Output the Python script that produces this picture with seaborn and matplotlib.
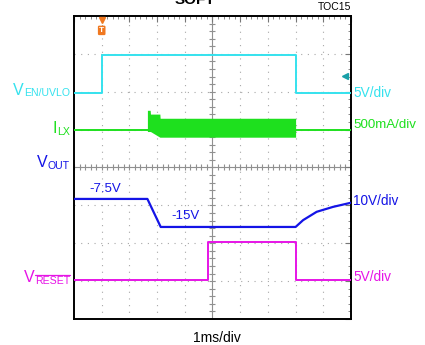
import numpy as np
import pandas as pd
import matplotlib
matplotlib.use("Agg")
import matplotlib.pyplot as plt
import matplotlib.lines as mlines
import seaborn as sns

# ---- data (in scope divisions: x 0..10, y 0..8) ----
en_t = [0.0, 1.0, 1.0, 8.0, 8.0, 10.0]
en_v = [5.96, 5.96, 6.97, 6.97, 5.96, 5.96]

lx_t = [0.0, 2.65, 8.0, 10.0]
lx_v = [4.98, 4.98, 4.98, 4.98]
lx_band_t = [2.65, 2.75, 2.76, 3.1, 3.11, 8.0]
lx_band_hi = [5.51, 5.51, 5.41, 5.41, 5.30, 5.30]
lx_band_lo = [4.95, 4.95, 4.95, 4.80, 4.80, 4.80]

out_t = [0.0, 2.65, 3.13, 8.0, 8.27, 8.76, 9.35, 10.0]
out_v = [3.17, 3.17, 2.43, 2.43, 2.61, 2.83, 2.96, 3.07]

rst_t = [0.0, 4.83, 4.83, 8.0, 8.0, 10.0]
rst_v = [1.03, 1.03, 2.03, 2.03, 1.03, 1.03]

C_EN = "#35E2EE"
C_LX = "#1EE01E"
C_OUT = "#1414E6"
C_RST = "#E614E6"

sns.set_style("white")
plt.rcParams["font.family"] = ["Liberation Sans", "DejaVu Sans"]

W, H = 425, 345
fig = plt.figure(figsize=(4.25, 3.45), dpi=100)
ax = fig.add_axes([74 / W, 1 - 319 / H, 277 / W, 303 / H])
ax.set_xlim(0, 10)
ax.set_ylim(0, 8)

# grid
for k in range(1, 10):
    ax.axvline(k, color="#a8a8a8", lw=0.8, ls=(0, (1, 5)), zorder=0)
for k in range(1, 8):
    ax.axhline(k, color="#a8a8a8", lw=0.8, ls=(0, (1, 5)), zorder=0)
ax.axhline(4, color="#909090", lw=0.8, zorder=0)
ax.axvline(5, color="#909090", lw=0.8, zorder=0)
mx = np.arange(0, 10.01, 0.2)
my = np.arange(0, 8.01, 0.2)
ax.plot(mx, np.full_like(mx, 4), ls="none", marker="|", ms=5, mew=0.8, color="#909090", zorder=0)
ax.plot(np.full_like(my, 5), my, ls="none", marker="_", ms=5, mew=0.8, color="#909090", zorder=0)

ax.set_xticks(range(0, 11))
ax.set_yticks(range(0, 9))
ax.set_xticks(mx, minor=True)
ax.set_yticks(my, minor=True)
ax.tick_params(which="both", direction="in", top=True, right=True,
               labelbottom=False, labelleft=False, color="#777777")
ax.tick_params(which="major", length=4, width=0.8)
ax.tick_params(which="minor", length=2.5, width=0.6)
for s in ax.spines.values():
    s.set_color("black")
    s.set_linewidth(1.4)

# traces
ax.fill_between(lx_band_t, lx_band_lo, lx_band_hi, color=C_LX, lw=0, zorder=2)
sns.lineplot(x=lx_t, y=lx_v, ax=ax, color=C_LX, lw=1.4, sort=False, estimator=None, zorder=3)
sns.lineplot(x=en_t, y=en_v, ax=ax, color=C_EN, lw=1.4, sort=False, estimator=None, zorder=3)
sns.lineplot(x=out_t, y=out_v, ax=ax, color=C_OUT, lw=1.6, sort=False, estimator=None, zorder=3)
sns.lineplot(x=rst_t, y=rst_v, ax=ax, color=C_RST, lw=1.4, sort=False, estimator=None, zorder=3)

# markers
ax.plot([1.0], [7.9], marker="v", color="#F07820", ms=5, clip_on=False, zorder=5)
ax.text(1.0, 7.62, "T", color="white", fontsize=6, ha="center", va="center", fontweight="bold",
        bbox=dict(boxstyle="round,pad=0.15", fc="#F07820", ec="none"), zorder=5)
ax.plot([9.78], [6.41], marker="<", color="#18A0A8", ms=4, zorder=5)

# left labels: main letter + subscript, right aligned at x=70 px
fig.canvas.draw()
renderer = fig.canvas.get_renderer()

def px(x, y):
    return x / W, 1 - y / H

def ylab(main, sub, base_px, col, overline=False):
    st = fig.text(*px(70, base_px + 1.5), sub, color=col, fontsize=7.6, ha="right", va="baseline")
    bb = st.get_window_extent(renderer)
    x0 = bb.x0 / fig.dpi / 4.25
    fig.text(x0, 1 - base_px / H, main, color=col, fontsize=11.5, ha="right", va="baseline")
    if overline:
        ytop = (bb.y1 + 1.0) / fig.dpi / 3.45
        fig.add_artist(mlines.Line2D([bb.x0 / fig.dpi / 4.25, bb.x1 / fig.dpi / 4.25], [ytop, ytop],
                                     color=col, lw=0.9, transform=fig.transFigure))

ylab("V", "EN/UVLO", 95, C_EN)
ylab("I", "LX", 133, C_LX)
ylab("V", "OUT", 167.5, C_OUT)
ylab("V", "RESET", 282, C_RST, overline=True)

# right labels
def rlab(txt, ypx, col, fs):
    fig.text(*px(353, ypx), txt, color=col, fontsize=fs, ha="left", va="center")
rlab("5V/div", 93, C_EN, 9.8)
rlab("500mA/div", 125.5, C_LX, 9.6)
rlab("10V/div", 200.5, C_OUT, 9.8)
rlab("5V/div", 277, C_RST, 9.8)

# annotations
fig.text(*px(105, 189), "-7.5V", color=C_OUT, fontsize=9.5, ha="center", va="center")
fig.text(*px(186, 216), "-15V", color=C_OUT, fontsize=9.5, ha="center", va="center")
fig.text(*px(216.5, 338), "1ms/div", color="black", fontsize=10, ha="center", va="center")
fig.text(*px(335, 7), "TOC15", color="black", fontsize=7.5, ha="center", va="center")
fig.text(*px(195, 4), "SOFT", color="black", fontsize=11, ha="center", va="baseline",
         fontweight="bold")

fig.savefig("out.png", dpi=100)
